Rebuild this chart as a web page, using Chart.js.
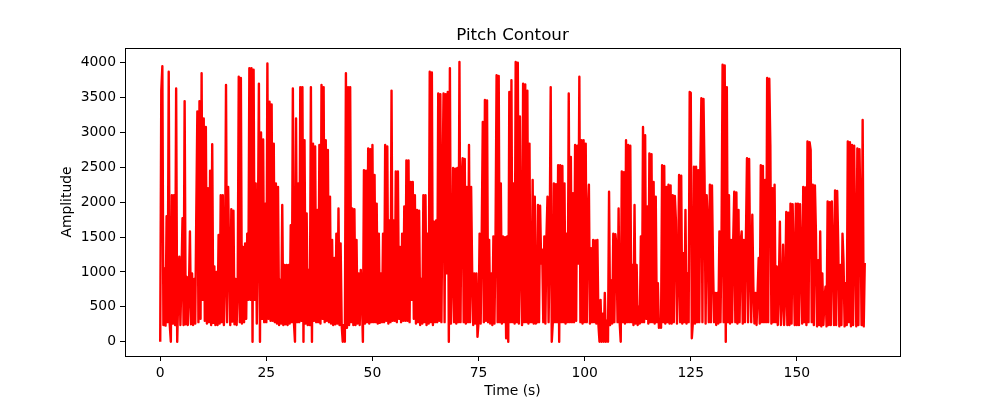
<!DOCTYPE html>
<html>
<head>
<meta charset="utf-8">
<title>Pitch Contour</title>
<script src="https://cdn.jsdelivr.net/npm/chart.js@4.4.1/dist/chart.umd.min.js"></script>
<style>
  html, body { margin: 0; padding: 0; background: #fff; }
  #wrap { width: 1000px; height: 400px; }
</style>
</head>
<body>
<div id="wrap"><canvas id="pitchChart" width="1000" height="400"></canvas></div>
<script>
// Pitch values, one every 0.25 s, in 25 s blocks
const frameStep = 0.25;

const seg000 = [
  0, 3600, 3950, 240, 1050, 230, 1800, 280, 3870, 240,
  0, 2100, 260, 2100, 240, 3630, 0, 700, 1220, 240,
  930, 1770, 240, 3450, 250, 930, 240, 700, 1580, 250,
  980, 240, 900, 260, 1860, 3300, 280, 3450, 330, 3850,
  600, 3200, 300, 3080, 260, 2200, 280, 2450, 240, 2830,
  270, 1080, 240, 1000, 240, 1530, 260, 2100, 280, 2100,
  240, 900, 3680, 280, 2220, 1200, 240, 1900, 290, 1880,
  250, 900, 240, 740, 3800, 280, 3780, 260, 1360, 280,
  1410, 330, 1550, 600, 3920, 600, 3920, 0, 3900, 600,
  2270, 260, 1460, 3700, 0, 3000, 330, 2900, 280, 1980
];
const seg025 = [
  280, 3990, 330, 3440, 300, 3400, 300, 2840, 280, 2270,
  260, 2220, 240, 885, 260, 1960, 240, 1100, 250, 1100,
  240, 1100, 260, 1670, 280, 3630, 280, 0, 3200, 280,
  2270, 280, 3650, 300, 3650, 0, 2890, 260, 1840, 240,
  1030, 240, 3650, 0, 2840, 300, 2800, 280, 1890, 280,
  2820, 260, 3680, 330, 3650, 280, 2890, 300, 2750, 280,
  2080, 260, 1460, 240, 1200, 250, 1550, 260, 1910, 240,
  1410, 240, 0, 240, 0, 3850, 200, 3650, 240, 3650,
  280, 1910, 240, 1900, 240, 1460, 260, 980, 240, 1030,
  700, 0, 2460, 260, 2450, 280, 2770, 260, 2760, 280
];
const seg050 = [
  2820, 280, 2390, 280, 1980, 260, 1550, 270, 980, 280,
  1550, 280, 2820, 300, 2800, 260, 1740, 280, 3600, 300,
  1740, 300, 2440, 280, 2440, 330, 1360, 280, 1550, 300,
  1940, 300, 2600, 300, 2600, 280, 2290, 600, 2290, 330,
  2100, 260, 1890, 280, 1880, 240, 900, 260, 2100, 280,
  2100, 240, 1550, 260, 3870, 280, 3860, 240, 1720, 280,
  1740, 280, 3560, 300, 3550, 280, 2125, 3560, 280, 3550,
  980, 3580, 0, 3920, 260, 930, 2490, 280, 2480, 260,
  2490, 280, 4010, 280, 2290, 2630, 280, 2620, 260, 2220,
  280, 2820, 280, 2220, 980, 240, 980, 260, 980, 70
];
const seg075 = [
  280, 1550, 260, 1550, 3150, 280, 3465, 300, 3460, 280,
  1460, 260, 980, 240, 1510, 260, 1500, 3820, 280, 3810,
  280, 2270, 260, 1510, 280, 1500, 50, 1510, 0, 3580,
  280, 3750, 280, 2270, 260, 4010, 280, 4000, 260, 3230,
  1100, 240, 3700, 280, 3690, 280, 3600, 260, 2840, 280,
  280, 2320, 260, 2080, 260, 280, 1960, 280, 1950, 1120,
  1320, 280, 1510, 260, 1500, 2080, 280, 1360, 3650, 0,
  280, 2270, 280, 2260, 280, 2530, 0, 2530, 280, 2520,
  280, 2270, 260, 1550, 280, 3560, 280, 2650, 280, 2130,
  280, 2820, 300, 2810, 1120, 3800, 280, 2890, 260, 2890
];
const seg100 = [
  280, 2840, 280, 1800, 2250, 260, 1340, 280, 1460, 280,
  1450, 260, 1460, 240, 0, 600, 0, 400, 0, 700,
  0, 300, 0, 2150, 240, 880, 260, 1550, 280, 1540,
  1360, 280, 1910, 280, 0, 2440, 280, 2430, 260, 2890,
  280, 2820, 280, 2810, 280, 1100, 240, 1960, 260, 1100,
  240, 500, 260, 1510, 280, 3080, 280, 2960, 330, 1940,
  260, 2700, 280, 2690, 280, 2290, 260, 2080, 280, 840,
  200, 300, 200, 2530, 280, 2520, 260, 2220, 280, 2250,
  260, 2240, 260, 2100, 280, 2090, 1740, 260, 980, 2390,
  280, 2380, 260, 1270, 280, 1890, 260, 980, 280, 3580
];
const seg125 = [
  3570, 50, 280, 2510, 260, 2510, 280, 2460, 280, 2450,
  3490, 280, 3480, 2370, 260, 2100, 1740, 280, 2250, 280,
  2240, 1080, 280, 700, 240, 700, 260, 1580, 280, 1500,
  3970, 280, 3960, 0, 3650, 280, 2100, 260, 1460, 280,
  1450, 2150, 280, 2140, 260, 1890, 280, 1440, 1580, 260,
  1460, 280, 1500, 2630, 280, 2620, 1100, 280, 1820, 790,
  260, 700, 240, 700, 1200, 260, 2530, 280, 2520, 280,
  2320, 280, 3780, 280, 3770, 2820, 260, 2200, 280, 2250,
  280, 1080, 240, 800, 1720, 240, 600, 1390, 240, 700,
  1860, 240, 1850, 240, 1980, 260, 1970, 1150, 240, 1980
];
const seg150 = [
  240, 1980, 240, 1970, 1170, 260, 2220, 280, 2210, 240,
  2870, 280, 2860, 2750, 280, 2250, 240, 2240, 1550, 220,
  1170, 240, 1580, 220, 980, 240, 600, 790, 220, 2010,
  240, 2000, 240, 2010, 1270, 240, 2170, 240, 2160, 1360,
  220, 1100, 240, 1550, 1130, 220, 840, 240, 2870, 280,
  2860, 220, 2820, 240, 2810, 1360, 220, 2770, 240, 2760,
  1800, 240, 3180, 220, 1130
];

const segmentStarts = [0, 25, 50, 75, 100, 125, 150];
const segmentValues = [seg000, seg025, seg050, seg075, seg100, seg125, seg150];

const xTicks = [0, 25, 50, 75, 100, 125, 150];
const yTicks = [0, 500, 1000, 1500, 2000, 2500, 3000, 3500, 4000];

// Build {x, y} points: each block starts at its own time
const points = [];
segmentValues.forEach((vals, s) => {
  vals.forEach((v, i) => {
    points.push({ x: segmentStarts[s] + i * frameStep, y: v });
  });
});

const tickFont = { family: 'DejaVu Sans', size: 13.9 };

// Draw the axes box, title and axis labels like matplotlib does
const frameAndLabels = {
  id: 'frameAndLabels',
  afterDraw(chart) {
    const { ctx, chartArea: a } = chart;
    const cx = (a.left + a.right) / 2;
    ctx.save();
    ctx.strokeStyle = '#000';
    ctx.lineWidth = 1;
    ctx.strokeRect(Math.round(a.left) + 0.5, Math.round(a.top) + 0.5,
      Math.round(a.right - a.left), Math.round(a.bottom - a.top));

    ctx.fillStyle = '#000';
    ctx.textAlign = 'center';
    ctx.font = '16.7px "DejaVu Sans"';
    ctx.textBaseline = 'alphabetic';
    ctx.fillText('Pitch Contour', cx, a.top - 8);

    ctx.font = '13.9px "DejaVu Sans"';
    ctx.textBaseline = 'middle';
    ctx.fillText('Time (s)', cx, 391);

    ctx.translate(67, (a.top + a.bottom) / 2);
    ctx.rotate(-Math.PI / 2);
    ctx.fillText('Amplitude', 0, 0);
    ctx.restore();
  }
};

new Chart(document.getElementById('pitchChart'), {
  type: 'line',
  data: {
    datasets: [{
      label: 'Pitch',
      data: points,
      borderColor: '#ff0000',
      borderWidth: 2.4,
      borderJoinStyle: 'round',
      pointRadius: 0,
      tension: 0,
      fill: false
    }]
  },
  options: {
    responsive: false,
    devicePixelRatio: 1,
    animation: false,
    layout: { padding: { top: 48, right: 100, left: 0, bottom: 0 } },
    plugins: {
      legend: { display: false },
      title: { display: false },
      tooltip: { enabled: false }
    },
    scales: {
      x: {
        type: 'linear',
        min: -8.3,
        max: 174.3,
        afterBuildTicks: s => { s.ticks = xTicks.map(v => ({ value: v })); },
        afterFit: s => { s.height = 44; },
        ticks: { color: '#000', font: tickFont, padding: 4, maxRotation: 0, autoSkip: false,
          callback: v => String(v) },
        grid: { drawOnChartArea: false, tickLength: 5, color: '#000', tickColor: '#000' },
        border: { display: false }
      },
      y: {
        min: -205,
        max: 4211,
        afterBuildTicks: s => { s.ticks = yTicks.map(v => ({ value: v })); },
        afterFit: s => { s.width = 125; },
        ticks: { color: '#000', font: tickFont, padding: 4, autoSkip: false,
          callback: v => String(v) },
        grid: { drawOnChartArea: false, tickLength: 5, color: '#000', tickColor: '#000' },
        border: { display: false }
      }
    }
  },
  plugins: [frameAndLabels]
});
</script>
</body>
</html>
